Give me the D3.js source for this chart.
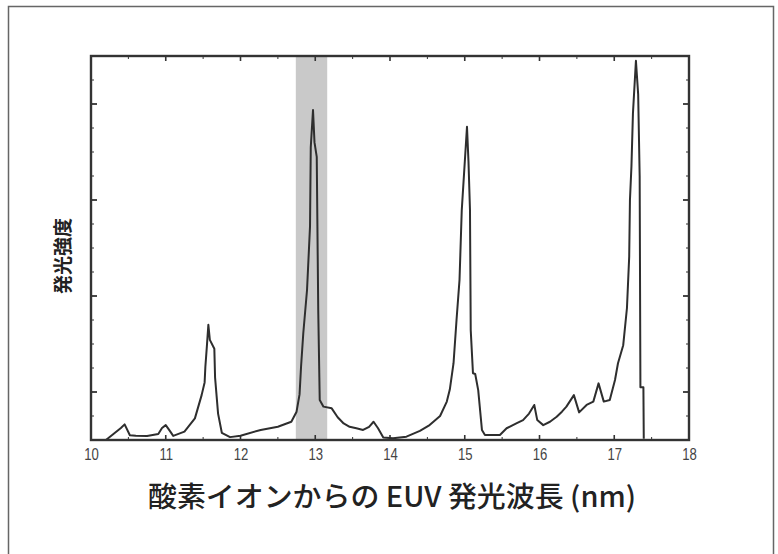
<!DOCTYPE html>
<html><head><meta charset="utf-8">
<script src="https://cdn.jsdelivr.net/npm/d3@7"></script>
<style>body{margin:0;background:#fff}svg{display:block}</style>
</head><body>
<script>
// wavelength (nm)
const wavelength = [10.20,10.30,10.40,10.45,10.52,10.60,10.75,10.90,10.95,11.00,11.05,11.10,11.25,11.39,11.48,11.52,11.53,11.55,11.57,11.59,11.65,11.66,11.70,11.75,11.86,12.00,12.27,12.50,12.68,12.75,12.79,12.81,12.84,12.89,12.93,12.94,12.97,12.99,13.02,13.04,13.06,13.11,13.22,13.30,13.38,13.46,13.55,13.64,13.72,13.78,13.84,13.91,14.04,14.22,14.40,14.53,14.67,14.76,14.80,14.85,14.89,14.93,14.96,15.03,15.05,15.07,15.08,15.11,15.14,15.18,15.23,15.27,15.47,15.56,15.69,15.78,15.86,15.93,15.97,16.05,16.14,16.23,16.30,16.36,16.46,16.53,16.63,16.72,16.79,16.86,16.94,17.01,17.05,17.12,17.17,17.20,17.21,17.23,17.25,17.29,17.32,17.34,17.35,17.355,17.39,17.395];
// emission intensity (a.u.)
const intensity = [0.00,0.25,0.50,0.65,0.20,0.18,0.17,0.25,0.50,0.62,0.40,0.17,0.35,0.90,1.87,2.40,3.05,3.90,4.80,4.17,3.80,2.60,1.10,0.30,0.12,0.18,0.42,0.55,0.76,1.18,1.90,3.05,4.45,6.25,8.90,12.20,13.75,12.40,11.80,5.40,1.67,1.39,1.32,0.95,0.69,0.55,0.49,0.42,0.55,0.76,0.49,0.10,0.07,0.14,0.38,0.62,1.00,1.60,2.10,3.20,5.00,6.67,9.58,13.05,11.60,9.58,4.58,2.78,2.75,2.08,0.42,0.21,0.21,0.49,0.69,0.83,1.10,1.46,0.83,0.62,0.76,0.97,1.18,1.39,1.87,1.15,1.46,1.60,2.36,1.60,1.67,2.50,3.20,3.95,5.50,7.64,10.00,11.40,13.60,15.80,14.40,11.00,2.20,2.20,2.20,0.05];
const xTicks = [10,11,12,13,14,15,16,17,18];
const highlightBand = [12.74, 13.16];
const yLabel = "発光強度";
const xLabel = "酸素イオンからの EUV 発光波長 (nm)";

const W = 778, H = 554;
const m = {left: 91, top: 56, right: 689, bottom: 440};
const svg = d3.select("body").append("svg").attr("width", W).attr("height", H);

// outer frame
svg.append("path").attr("d", `M8.5,${H+2} V6.5 H773.5 V${H+2}`)
  .attr("fill", "none").attr("stroke", "#666").attr("stroke-width", 1.5);

const x = d3.scaleLinear().domain([10, 18]).range([m.left, m.right]);
const y = d3.scaleLinear().domain([0, 16]).range([m.bottom, m.top]);

// band
svg.append("rect").attr("x", x(highlightBand[0])).attr("y", m.top)
  .attr("width", x(highlightBand[1]) - x(highlightBand[0])).attr("height", m.bottom - m.top)
  .attr("fill", "#c9c9c9");

// ticks
const xMinor = d3.range(10.5, 18, 1), xMajor = d3.range(11, 18, 1);
const yMinor = d3.range(1, 16, 1).filter(v => ![2,6,10,14].includes(v)), yMajor = [2,6,10,14];
const tg = svg.append("g").attr("stroke", "#333");
function xt(vals, len, w) {
  vals.forEach(v => {
    tg.append("line").attr("x1", x(v)).attr("x2", x(v)).attr("y1", m.bottom).attr("y2", m.bottom - len).attr("stroke-width", w);
    tg.append("line").attr("x1", x(v)).attr("x2", x(v)).attr("y1", m.top).attr("y2", m.top + len).attr("stroke-width", w);
  });
}
function yt(vals, len, w) {
  vals.forEach(v => {
    tg.append("line").attr("y1", y(v)).attr("y2", y(v)).attr("x1", m.left).attr("x2", m.left + len).attr("stroke-width", w);
    tg.append("line").attr("y1", y(v)).attr("y2", y(v)).attr("x1", m.right).attr("x2", m.right - len).attr("stroke-width", w);
  });
}
xt(xMinor, 3, 1); xt(xMajor, 5, 1.6); yt(yMinor, 3, 1); yt(yMajor, 6, 1.8);

// line
const pts = wavelength.map((w, i) => [w, intensity[i]]);
svg.append("path").datum(pts)
  .attr("d", d3.line().x(d => x(d[0])).y(d => y(d[1])))
  .attr("fill", "none").attr("stroke", "#2e2e2e").attr("stroke-width", 2).attr("stroke-linejoin", "round");

// frame
svg.append("rect").attr("x", m.left).attr("y", m.top).attr("width", m.right - m.left).attr("height", m.bottom - m.top)
  .attr("fill", "none").attr("stroke", "#333").attr("stroke-width", 2.4);

// x axis labels
const xAxis = d3.axisBottom(x).tickValues(xTicks).tickSize(0).tickPadding(9).tickFormat(d3.format("d"));
const ga = svg.append("g").attr("transform", `translate(0,${m.bottom})`).call(xAxis);
ga.select(".domain").remove();
ga.selectAll("text").attr("font-family", "'Liberation Sans',sans-serif")
  .attr("font-size", 16).attr("fill", "#444").attr("transform", "scale(0.82,1)");

svg.append("text").attr("x", 392).attr("y", 507).attr("text-anchor", "middle")
  .attr("font-family", "'Noto Sans CJK JP',sans-serif").attr("font-size", 28).attr("font-weight", 500)
  .attr("textLength", 488).attr("lengthAdjust", "spacingAndGlyphs")
  .attr("fill", "#222").text(xLabel);
svg.append("text").attr("transform", "translate(70,256) rotate(-90)").attr("text-anchor", "middle")
  .attr("font-family", "'Noto Sans CJK JP',sans-serif").attr("font-size", 19).attr("font-weight", 700)
  .attr("fill", "#222").text(yLabel);
</script>
</body></html>
